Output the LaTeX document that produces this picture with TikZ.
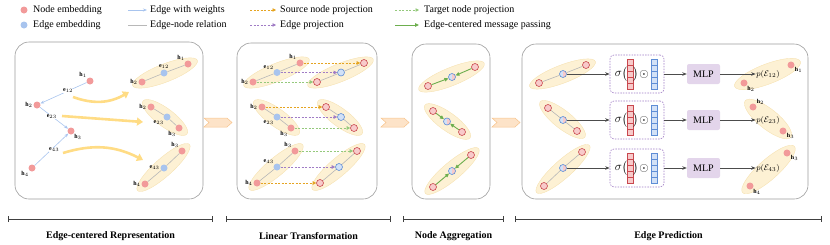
\documentclass[tikz,border=0pt]{standalone}
\usepackage{amsmath,amssymb}
\usepackage{fontspec}
\setmainfont{Liberation Serif}
\usepackage{xcolor}
\definecolor{clNode}{HTML}{F29A9A}
\definecolor{clNodeLine}{HTML}{C9484E}
\definecolor{clNodeLight}{HTML}{F8CACA}
\definecolor{clEdge}{HTML}{A8C4EE}
\definecolor{clEdgeLine}{HTML}{5E8DD6}
\definecolor{clEdgeLight}{HTML}{D2E1F7}
\definecolor{clGroup}{HTML}{FDF1D4}
\definecolor{clGroupLine}{HTML}{F6E2B2}
\definecolor{clFlow}{HTML}{FFDC85}
\definecolor{clSrc}{HTML}{E5A421}
\definecolor{clEproj}{HTML}{A07CC5}
\definecolor{clTgt}{HTML}{95C97C}
\definecolor{clMsg}{HTML}{6DAE4E}
\definecolor{clRel}{HTML}{B8B8B8}
\definecolor{clChev}{HTML}{FDE3C8}
\definecolor{clChevLine}{HTML}{F8C48C}
\definecolor{clMLP}{HTML}{E3D5EB}
\definecolor{clPanel}{HTML}{9C9C9C}
\usepackage{tikz}
\usetikzlibrary{arrows.meta,calc,shapes.geometric,backgrounds}

% yellow ellipse round a group: [height]{from}{to}
\newcommand{\grp}[3][18]{%
  \path let \p1=($(#3)-(#2)$), \n1={atan2(\y1,\x1)}, \n2={veclen(\x1,\y1)+20}
    in node[grpbox, minimum width=\n2, minimum height=#1, rotate=\n1] (g-#2-#3) at ($(#2)!0.5!(#3)$) {};}

\begin{document}
\begin{tikzpicture}[x=1pt,y=-1pt,
  every node/.style={font=\fontsize{10}{12}\selectfont},
  nd/.style={circle,inner sep=0pt,minimum size=7pt,fill=clNode},
  ed/.style={circle,inner sep=0pt,minimum size=7pt,fill=clEdge},
  ndo/.style={nd,draw=clNodeLine,fill=clNodeLight,line width=0.6pt},
  edo/.style={ed,draw=clEdgeLine,fill=clEdgeLight,line width=0.6pt},
  edm/.style={edo,path picture={\fill[clNodeLight] (path picture bounding box.north) rectangle (path picture bounding box.south east);}},
  lbl/.style={font=\fontsize{6}{6}\selectfont,inner sep=0.5pt},
  elbl/.style={lbl,fill=white,inner sep=0.3pt},
  legtxt/.style={anchor=west,inner sep=0pt},
  grpbox/.style={ellipse,fill=clGroup,draw=clGroupLine,line width=0.4pt,inner sep=0pt},
  wgt/.style={draw=clEdge,line width=0.6pt,-{Stealth[length=4pt,width=3pt]}},
  rel/.style={draw=clRel,line width=0.6pt},
  src/.style={draw=clSrc,line width=0.6pt,dash pattern=on 2pt off 1.5pt,-{Triangle[length=3.5pt,width=3.5pt]}},
  eproj/.style={src,draw=clEproj},
  tgt/.style={src,draw=clTgt},
  msg/.style={draw=clMsg,line width=0.9pt,-{Triangle[length=4pt,width=3.5pt]}},
  flow/.style={draw=clFlow,line width=2.6pt,-{Triangle[length=6pt,width=8pt]}},
  pred/.style={draw=black!70,line width=0.8pt,-{Stealth[length=4.5pt,width=3.5pt]}},
  panel/.style={draw=clPanel,line width=0.6pt,rounded corners=14pt},
  chev/.style={fill=clChev,draw=clChevLine,line width=0.5pt},
  predbox/.style={draw=clEproj,dash pattern=on 1.5pt off 1.2pt,line width=0.6pt,rounded corners=4pt,minimum width=54pt,minimum height=38pt},
  mlpbox/.style={fill=clMLP,rounded corners=2pt,minimum width=33pt,minimum height=20pt,inner sep=0pt},
  vecr/.style={rectangle,inner sep=0pt,outer sep=0pt,minimum width=6pt,minimum height=30pt,fill=clNodeLight,draw=clNodeLine,line width=0.5pt},
  vecb/.style={vecr,fill=clEdgeLight,draw=clEdgeLine},
  sig/.style={font=\fontsize{12}{12}\selectfont,inner sep=0pt},
  ptxt/.style={font=\fontsize{8}{8}\selectfont,inner sep=0.5pt},
  brk/.style={draw=black!75,line width=0.8pt,{Bar[width=6pt]}-{Bar[width=6pt]}},
  stage/.style={font=\fontsize{10}{12}\selectfont\bfseries}]
  \useasboundingbox (0,0) rectangle (830,244);

  % legend
  \node[nd] (lgNode) at (24,10) {};
  \node[legtxt] (lgNodeT) at (33,10) {Node embedding};
  \node[ed] (lgEdge) at (24,25) {};
  \node[legtxt] (lgEdgeT) at (33,25) {Edge embedding};
  \coordinate (lgW1) at (128,10); \coordinate (lgW2) at (147,10);
  \draw[wgt] (lgW1) -- (lgW2);
  \node[legtxt] (lgWT) at (150,10) {Edge with weights};
  \coordinate (lgR1) at (128,25); \coordinate (lgR2) at (147,25);
  \draw[rel] (lgR1) -- (lgR2);
  \node[legtxt] (lgRT) at (150,25) {Edge-node relation};
  \coordinate (lgS1) at (250,10); \coordinate (lgS2) at (276,10);
  \draw[src] (lgS1) -- (lgS2);
  \node[legtxt] (lgST) at (280,10) {Source node projection};
  \coordinate (lgP1) at (250,25); \coordinate (lgP2) at (276,25);
  \draw[eproj] (lgP1) -- (lgP2);
  \node[legtxt] (lgPT) at (280,25) {Edge projection};
  \coordinate (lgT1) at (395,10); \coordinate (lgT2) at (419,10);
  \draw[tgt] (lgT1) -- (lgT2);
  \node[legtxt] (lgTT) at (424,10) {Target node projection};
  \coordinate (lgM1) at (395,25); \coordinate (lgM2) at (419,25);
  \draw[msg] (lgM1) -- (lgM2);
  \node[legtxt] (lgMT) at (424,25) {Edge-centered message passing};

  % panels and chevrons
  \draw[panel] (15,42) rectangle (203,199);
  \draw[panel] (237,43) rectangle (377,199);
  \draw[panel] (412,44) rectangle (490,199);
  \draw[panel] (522,44) rectangle (808,199);
  \foreach \a in {204,381,492}
    \filldraw[chev] (\a,118) -- (\a+23,118) -- (\a+28,122.5) -- (\a+23,127) -- (\a,127) -- (\a+5,122.5) -- cycle;

  % panel 1: graph
  \node[nd,label={[lbl]above left:$\mathbf{h}_1$}] (h1) at (90,81) {};
  \node[nd,label={[lbl]left:$\mathbf{h}_2$}] (h2) at (37,105) {};
  \node[nd,label={[lbl]below right:$\mathbf{h}_3$}] (h3) at (71,131) {};
  \node[nd,label={[lbl]below left:$\mathbf{h}_4$}] (h4) at (32,168) {};
  \draw[wgt] (h1) -- node[elbl,pos=0.4] (e12) {$\mathbf{e}_{12}$} (h2);
  \draw[wgt] (h2) -- node[elbl,pos=0.42] (e23) {$\mathbf{e}_{23}$} (h3);
  \draw[wgt] (h4) -- node[elbl,pos=0.55,xshift=1pt,yshift=-2pt] (e43) {$\mathbf{e}_{43}$} (h3);
  \coordinate (f1s) at (73,97);  \coordinate (f1e) at (129,92);
  \coordinate (f2s) at (62,116); \coordinate (f2e) at (143,122);
  \coordinate (f3s) at (63,153); \coordinate (f3e) at (143,160);
  \draw[flow] (f1s) to[bend right=25] (f1e);
  \draw[flow] (f2s) -- (f2e);
  \draw[flow] (f3s) to[bend left=22] (f3e);
  % panel 1: edge groups
  \node[nd,label={[lbl]left:$\mathbf{h}_2$}] (ga1) at (142,82) {};
  \node[ed,label={[lbl]above:$\mathbf{e}_{12}$}] (ge1) at (164,73) {};
  \node[nd,label={[lbl]above left:$\mathbf{h}_1$}] (gb1) at (188,64) {};
  \node[nd,label={[lbl]left:$\mathbf{h}_2$}] (ga2) at (151,107) {};
  \node[ed,label={[lbl]below left:$\mathbf{e}_{23}$}] (ge2) at (167,117) {};
  \node[nd,label={[lbl]below left:$\mathbf{h}_3$}] (gb2) at (179,128) {};
  \node[nd,label={[lbl]above left:$\mathbf{h}_3$}] (ga3) at (182,151) {};
  \node[ed,label={[lbl]left:$\mathbf{e}_{43}$}] (ge3) at (164,168) {};
  \node[nd,label={[lbl]left:$\mathbf{h}_4$}] (gb3) at (145,184) {};
  \draw[rel] (ga1) -- (ge1) -- (gb1);
  \draw[rel] (ga2) -- (ge2) -- (gb2);
  \draw[rel] (ga3) -- (ge3) -- (gb3);

  % panel 2: linear transformation
  \node[nd,label={[lbl]above left:$\mathbf{h}_1$}] (la1) at (300,63) {};
  \node[ed,label={[lbl]above left:$\mathbf{e}_{12}$}] (le1) at (277,72.5) {};
  \node[nd,label={[lbl]left:$\mathbf{h}_2$}] (lb1) at (253,82) {};
  \node[ndo] (ra1) at (364,63) {};
  \node[edo] (re1) at (341,72.5) {};
  \node[ndo] (rb1) at (317,82) {};
  \node[nd,label={[lbl]left:$\mathbf{h}_2$}] (la2) at (262,107) {};
  \node[ed,label={[lbl]below left:$\mathbf{e}_{23}$}] (le2) at (277,117) {};
  \node[nd,label={[lbl]below left:$\mathbf{h}_3$}] (lb2) at (291,128) {};
  \node[ndo] (ra2) at (326,107) {};
  \node[edo] (re2) at (341,117) {};
  \node[ndo] (rb2) at (354,128) {};
  \node[nd,label={[lbl]above left:$\mathbf{h}_3$}] (la3) at (295,151) {};
  \node[ed,label={[lbl]above left:$\mathbf{e}_{43}$}] (le3) at (277,167) {};
  \node[nd,label={[lbl]left:$\mathbf{h}_4$}] (lb3) at (257,183) {};
  \node[ndo] (ra3) at (357,151) {};
  \node[edo] (re3) at (339,167) {};
  \node[ndo] (rb3) at (320,183) {};
  \foreach \g in {1,2,3} {
    \draw[rel] (la\g) -- (le\g) -- (lb\g);
    \draw[rel] (ra\g) -- (re\g) -- (rb\g);
    \draw[eproj] (le\g) -- (re\g);
  }
  \draw[src] (la1) -- (ra1);
  \draw[tgt] (lb1) -- (rb1);
  \draw[src] (la2) -- (ra2);
  \draw[tgt] (lb2) -- (rb2);
  \draw[tgt] (la3) -- (ra3);
  \draw[src] (lb3) -- (rb3);

  % panel 3: node aggregation
  \node[ndo] (ma1) at (428,86) {};
  \node[edm] (mc1) at (452,77) {};
  \node[ndo] (mb1) at (475,67) {};
  \node[ndo] (ma2) at (433,111) {};
  \node[edm] (mc2) at (447,121.5) {};
  \node[ndo] (mb2) at (462,132) {};
  \node[ndo] (ma3) at (471,155) {};
  \node[edm] (mc3) at (452,171) {};
  \node[ndo] (mb3) at (433,187) {};
  \foreach \g in {1,2,3} {
    \draw[msg] (ma\g) -- (mc\g);
    \draw[msg] (mb\g) -- (mc\g);
  }

  % panel 4: edge prediction
  \node[ndo] (sa1) at (539,83) {};
  \node[edm] (sc1) at (563,74) {};
  \node[ndo] (sb1) at (586,65) {};
  \node[ndo] (sa2) at (548,108) {};
  \node[edm] (sc2) at (563,120) {};
  \node[ndo] (sb2) at (577,131) {};
  \node[ndo] (sa3) at (582,152) {};
  \node[edm] (sc3) at (563,168) {};
  \node[ndo] (sb3) at (544,186) {};
  \node[nd,label={[lbl]below right:$\mathbf{h}_2$}] (ta1) at (744,83) {};
  \node[nd,label={[lbl]-30:$\mathbf{h}_1$}] (tb1) at (791,65) {};
  \node[nd,label={[lbl]30:$\mathbf{h}_2$}] (ta2) at (753,107) {};
  \node[nd,label={[lbl]-30:$\mathbf{h}_3$}] (tb2) at (783,131) {};
  \node[nd,label={[lbl]-30:$\mathbf{h}_3$}] (ta3) at (787,153) {};
  \node[nd,label={[lbl]-45:$\mathbf{h}_4$}] (tb3) at (750,186) {};
  \foreach \rw/\yy/\ij in {1/74/12,2/120/23,3/168/43} {
    \draw[rel] (sa\rw) -- (sc\rw) -- (sb\rw);
    \node[predbox] (box\rw) at (637,\yy) {};
    \node[sig] (sig\rw) at (618.5,\yy) {$\sigma$};
    \node[sig] (lp\rw) at (624.5,\yy) {$\big($};
    \node[vecr] (vr\rw) at (630,\yy) {};
    \node[sig] (rp\rw) at (635.5,\yy) {$\big)$};
    \node[sig] (od\rw) at (644,\yy) {$\odot$};
    \node[vecb] (vb\rw) at (654.5,\yy) {};
    \foreach \k in {1,...,4} {
      \draw[clNodeLine,line width=0.4pt] ($(vr\rw.north west)+(0,6*\k)$) -- ++(6,0);
      \draw[clEdgeLine,line width=0.4pt] ($(vb\rw.north west)+(0,6*\k)$) -- ++(6,0);
    }
    \node[mlpbox] (mlp\rw) at (703.5,\yy) {MLP};
    \node[ptxt] (p\rw) at (768,\yy) {$p(\mathcal{E}_{\ij})$};
    \draw[pred] (sc\rw) -- (box\rw);
    \draw[pred] (box\rw) -- (mlp\rw);
    \draw[pred] (mlp\rw) -- (p\rw);
  }

  % groups behind the nodes
  \begin{scope}[on background layer]
    \grp{ga1}{gb1} \grp{ga2}{gb2} \grp{ga3}{gb3}
    \grp{lb1}{la1} \grp{la2}{lb2} \grp{lb3}{la3}
    \grp{rb1}{ra1} \grp{ra2}{rb2} \grp{rb3}{ra3}
    \grp{ma1}{mb1} \grp{ma2}{mb2} \grp{mb3}{ma3}
    \grp{sa1}{sb1} \grp{sa2}{sb2} \grp{sb3}{sa3}
    \grp[20]{ta1}{tb1} \grp[20]{ta2}{tb2} \grp[20]{tb3}{ta3}
  \end{scope}

  % stages
  \coordinate (b1l) at (8,219);   \coordinate (b1r) at (213,219);
  \coordinate (b2l) at (226,219); \coordinate (b2r) at (391,219);
  \coordinate (b3l) at (403,219); \coordinate (b3r) at (504,219);
  \coordinate (b4l) at (515,219); \coordinate (b4r) at (822,219);
  \draw[brk] (b1l) -- (b1r);
  \draw[brk] (b2l) -- (b2r);
  \draw[brk] (b3l) -- (b3r);
  \draw[brk] (b4l) -- (b4r);
  \node[stage] (st1) at (110.5,236) {Edge-centered Representation};
  \node[stage] (st2) at (308.5,236) {Linear Transformation};
  \node[stage] (st3) at (453.5,236) {Node Aggregation};
  \node[stage] (st4) at (668.5,236) {Edge Prediction};
\end{tikzpicture}
\end{document}
